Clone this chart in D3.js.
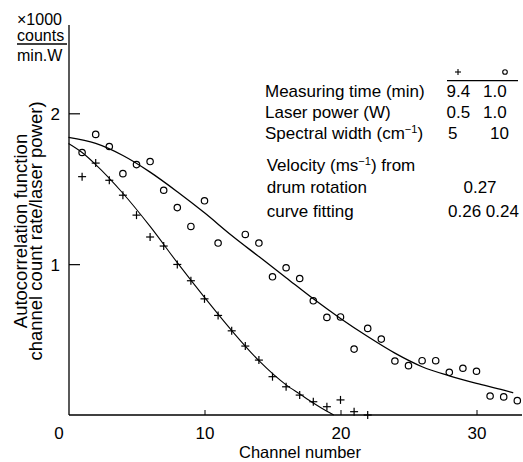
<!DOCTYPE html>
<html><head><meta charset="utf-8">
<script src="https://cdn.jsdelivr.net/npm/d3@7"></script>
<style>
body{margin:0;background:#fff;}
text{font-family:"Liberation Sans",Arial,sans-serif;fill:#000;}
</style></head>
<body><svg id="c" width="523" height="462"></svg>
<script>
// ---- data ----
const circleChannels = [1,2,3,4,5,6,7,8,9,10,11,13,14,15,16,17,18,19,20,21,22,23,24,25,26,27,28,29,30,31,32,33];
const circleValues   = [1.74,1.86,1.78,1.60,1.66,1.68,1.49,1.375,1.25,1.42,1.14,1.197,1.14,0.916,0.976,0.905,0.757,0.647,0.65,0.437,0.574,0.503,0.358,0.327,0.36,0.36,0.283,0.31,0.29,0.126,0.12,0.095];
const crossChannels  = [1,2,3,4,5,6,7,8,9,10,11,12,13,14,15,16,17,18,19,20,21,22];
const crossValues    = [1.58,1.67,1.556,1.457,1.325,1.18,1.12,0.998,0.89,0.77,0.66,0.558,0.457,0.364,0.254,0.187,0.132,0.088,0.055,0.10,0.022,0.0];
const circleFitX = [0,2,4,6,8,10,12,14,16,18,20,22,24,26,28,30,32,32.7];
const circleFitY = [1.84,1.80,1.72,1.61,1.48,1.34,1.19,1.05,0.91,0.77,0.64,0.52,0.41,0.32,0.26,0.21,0.165,0.147];
const crossFitX  = [0,1,2,4,6,8,10,12,14,16,17,18,19,19.5];
const crossFitY  = [1.80,1.74,1.66,1.47,1.25,1.01,0.78,0.56,0.36,0.20,0.14,0.08,0.025,0];
const xTicks = [0,10,20,30];
const yTicks = [1,2];
const tableLabels = ["Measuring time (min)","Laser power (W)","Spectral width (cm"];
const plusColumn   = ["9.4","0.5","5"];
const circleColumn = ["1.0","1.0","10"];
const velocityLabels = ["drum rotation","curve fitting"];
const velocityValues = ["0.27","0.26 0.24"];

const svg = d3.select("#c");
const x = d3.scaleLinear().domain([0,33]).range([68.5,517.3]);
const y = d3.scaleLinear().domain([0,2]).range([415,113.3]);

// axes
svg.append("line").attr("x1",69).attr("x2",69).attr("y1",25).attr("y2",415)
  .attr("stroke","#000").attr("stroke-width",1.3);
svg.append("line").attr("x1",69).attr("x2",522).attr("y1",415).attr("y2",415)
  .attr("stroke","#000").attr("stroke-width",1.3);

const xAxis = d3.axisBottom(x).tickValues(xTicks).tickFormat(d3.format("d")).tickSize(0).tickPadding(0);
const gx = svg.append("g").attr("transform","translate(0,415)").call(xAxis);
gx.select(".domain").remove();
gx.selectAll(".tick line").remove();
gx.selectAll(".tick").filter(d=>d>0).append("line").attr("y1",0).attr("y2",-5).attr("stroke","#000").attr("stroke-width",1);
gx.selectAll(".tick text").attr("font-size",17).attr("font-family","Liberation Sans").attr("fill","#000")
  .attr("y",24).attr("dy",0).attr("x",d=>d===0?-10:0);

const yAxis = d3.axisLeft(y).tickValues(yTicks).tickFormat(d3.format("d")).tickSize(0).tickPadding(0);
const gy = svg.append("g").attr("transform","translate(69,0)").call(yAxis);
gy.select(".domain").remove();
gy.selectAll(".tick line").remove();
gy.selectAll(".tick").append("line").attr("x1",0).attr("x2",11).attr("stroke","#000").attr("stroke-width",1.2);
gy.selectAll(".tick text").attr("font-size",17).attr("font-family","Liberation Sans").attr("fill","#000")
  .attr("x",-9).attr("dy","0.35em");

// fit curves
const line = d3.line().x(d=>x(d[0])).y(d=>y(d[1])).curve(d3.curveMonotoneX);
svg.append("path").attr("d",line(circleFitX.map((v,i)=>[v,circleFitY[i]])))
  .attr("fill","none").attr("stroke","#000").attr("stroke-width",1.3);
svg.append("path").attr("d",line(crossFitX.map((v,i)=>[v,crossFitY[i]])))
  .attr("fill","none").attr("stroke","#000").attr("stroke-width",1.1);

// markers
svg.append("g").selectAll("circle").data(circleChannels.map((c,i)=>[c,circleValues[i]])).join("circle")
  .attr("cx",d=>x(d[0])).attr("cy",d=>y(d[1])).attr("r",3.2)
  .attr("fill","none").attr("stroke","#000").attr("stroke-width",1.2);
const cr = svg.append("g").selectAll("g").data(crossChannels.map((c,i)=>[c,crossValues[i]])).join("g")
  .attr("transform",d=>`translate(${x(d[0])},${y(d[1])})`);
cr.append("line").attr("x1",-4).attr("x2",4).attr("stroke","#000").attr("stroke-width",1.2);
cr.append("line").attr("y1",-4).attr("y2",4).attr("stroke","#000").attr("stroke-width",1.2);

// axis titles
svg.append("text").attr("x",300).attr("y",458).attr("text-anchor","middle").attr("font-size",16.5).text("Channel number");
const yl = svg.append("text").attr("transform","translate(0,231) rotate(-90)").attr("text-anchor","middle").attr("font-size",18.5);
yl.append("tspan").attr("x",0).attr("y",26.5).text("Autocorrelation function");
yl.append("tspan").attr("x",0).attr("y",42).text("channel count rate/laser power)");

// unit label
svg.append("text").attr("x",17).attr("y",24.5).attr("font-size",16).text("×1000");
svg.append("text").attr("x",17).attr("y",41).attr("font-size",16).text("counts");
svg.append("line").attr("x1",17).attr("x2",67).attr("y1",44).attr("y2",44).attr("stroke","#000").attr("stroke-width",1.3);
svg.append("text").attr("x",17).attr("y",61).attr("font-size",16).text("min.W");

// legend table
svg.append("line").attr("x1",447).attr("x2",518).attr("y1",80.7).attr("y2",80.7).attr("stroke","#000").attr("stroke-width",1.2);
svg.append("line").attr("x1",455).attr("x2",461).attr("y1",72).attr("y2",72).attr("stroke","#000").attr("stroke-width",1.1);
svg.append("line").attr("x1",458).attr("x2",458).attr("y1",69).attr("y2",75).attr("stroke","#000").attr("stroke-width",1.1);
svg.append("circle").attr("cx",505).attr("cy",72).attr("r",2.3).attr("fill","none").attr("stroke","#000").attr("stroke-width",1.1);

const rowY = [96.7,118.3,139.3];
tableLabels.forEach((t,i)=>{
  const tx = svg.append("text").attr("x",265).attr("y",rowY[i]).attr("font-size",17);
  if(i===2){
    tx.append("tspan").text(t);
    tx.append("tspan").attr("dy",-6).attr("font-size",11).text("−1");
    tx.append("tspan").attr("dy",6).text(")");
  } else tx.text(t);
  svg.append("text").attr("x",i===2?448:446.5).attr("y",rowY[i]).attr("font-size",17).text(plusColumn[i]);
  svg.append("text").attr("x",i===2?490:483).attr("y",rowY[i]).attr("font-size",17).text(circleColumn[i]);
});
const vt = svg.append("text").attr("x",266.7).attr("y",170.7).attr("font-size",17);
vt.append("tspan").text("Velocity (ms");
vt.append("tspan").attr("dy",-6).attr("font-size",11).text("−1");
vt.append("tspan").attr("dy",6).text(") from");
const vRowY = [193.3,216.7];
velocityLabels.forEach((t,i)=>{
  svg.append("text").attr("x",266.7).attr("y",vRowY[i]).attr("font-size",17).text(t);
  svg.append("text").attr("x",i===0?480:483.5).attr("y",vRowY[i]).attr("text-anchor","middle").attr("font-size",17).text(velocityValues[i]);
});
</script></body></html>
